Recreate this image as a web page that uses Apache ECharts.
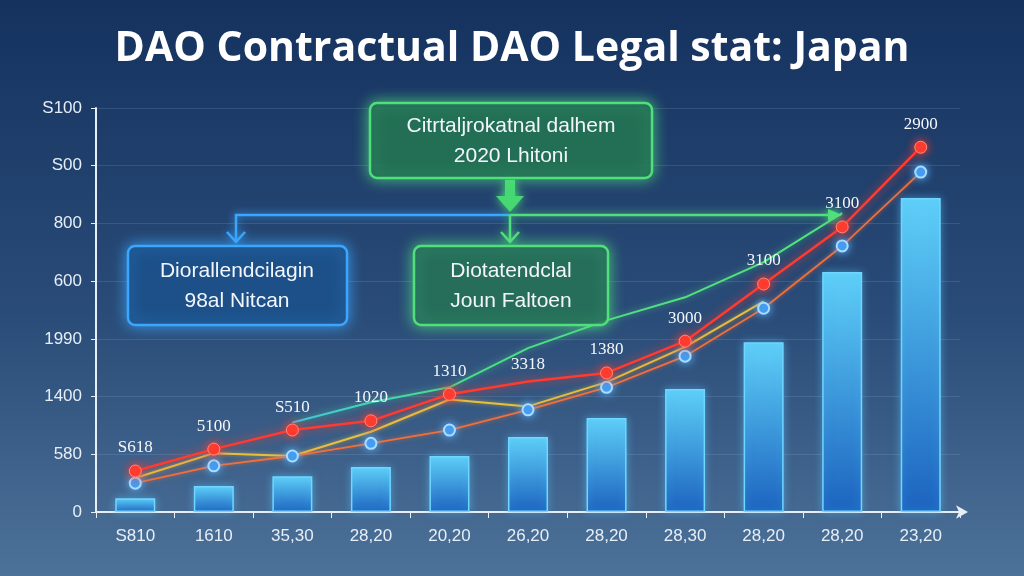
<!DOCTYPE html>
<html>
<head>
<meta charset="utf-8">
<title>DAO Contractual DAO Legal stat: Japan</title>
<script src="https://cdn.jsdelivr.net/npm/echarts@6/dist/echarts.min.js"></script>
<style>
  html, body { margin: 0; padding: 0; background: #1d3a66; }
  #chart { width: 1024px; height: 576px; }
</style>
</head>
<body>
<div id="chart"></div>
<script>
  // x categories and y tick labels as they appear on the picture
  var categories = ['S810', '1610', '35,30', '28,20', '20,20', '26,20', '28,20', '28,30', '28,20', '28,20', '23,20'];
  var yLabels = ['0', '580', '1400', '1990', '600', '800', 'S00', 'S100'];

  // values in tick steps (one step = one gridline)
  var barValues = [0.24, 0.45, 0.62, 0.78, 0.97, 1.30, 1.63, 2.13, 2.94, 4.16, 5.44];
  var redValues = [0.71, 1.09, 1.42, 1.58, 2.04, 2.26, 2.41, 2.96, 3.95, 4.94, 6.32];
  var orangeValues = [0.50, 0.80, 0.97, 1.19, 1.42, 1.77, 2.16, 2.70, 3.53, 4.61, 5.89];
  var yellowValues = [0.59, 1.02, 0.97, 1.39, 1.95, 1.83, 2.25, 2.86, 3.65];
  var greenValues = [null, null, 1.55, 1.90, 2.16, 2.84, 3.32, 3.72, 4.33, 5.18];
  var pointLabels = ['S618', '5100', 'S510', '1020', '1310', '3318', '1380', '3000', '3100', '3100', '2900'];

  var chart = echarts.init(document.getElementById('chart'));
  var lightText = '#e6eef7';

  function glowBox(x, y, w, h, stroke, fill) {
    return {
      type: 'rect',
      shape: { x: x, y: y, width: w, height: h, r: 7 },
      style: { fill: fill, stroke: stroke, lineWidth: 2.5, shadowBlur: 14, shadowColor: stroke },
      z: 20
    };
  }
  function boxText(x, y, text) {
    return {
      type: 'text',
      x: x, y: y,
      style: {
        text: text, fill: '#f2f6fb', font: '500 21px "Liberation Sans", Arial, sans-serif',
        align: 'center', verticalAlign: 'middle', lineHeight: 30
      },
      z: 21
    };
  }
  function arrowHead(x, y, color) {
    // small open chevron pointing down at (x, y)
    return {
      type: 'polyline',
      shape: { points: [[x - 9, y - 10], [x, y], [x + 9, y - 10]] },
      style: { stroke: color, lineWidth: 2.5, fill: null, shadowBlur: 8, shadowColor: color },
      z: 19
    };
  }

  var option = {
    backgroundColor: new echarts.graphic.LinearGradient(0, 0, 0, 1, [
      { offset: 0, color: '#15325f' },
      { offset: 0.55, color: '#2a4c78' },
      { offset: 1, color: '#4d7299' }
    ]),
    title: {
      text: 'DAO Contractual DAO Legal stat: Japan',
      left: 'center',
      top: 24,
      textStyle: {
        color: '#ffffff',
        fontSize: 41,
        fontWeight: 'bold',
        fontFamily: '"Open Sans", "Noto Sans", sans-serif'
      }
    },
    grid: { left: 96, right: 64, top: 108, bottom: 64 },
    xAxis: {
      type: 'category',
      data: categories,
      boundaryGap: true,
      axisLine: {
        show: true,
        symbol: ['none', 'arrow'],
        symbolSize: [10, 12],
        symbolOffset: [0, 8],
        lineStyle: { color: '#e8eef6', width: 2 }
      },
      axisTick: { show: true, length: 6, lineStyle: { color: '#e8eef6' } },
      axisLabel: {
        color: lightText,
        fontSize: 17,
        margin: 16,
        fontFamily: '"Liberation Sans Narrow", "Liberation Sans", sans-serif'
      }
    },
    yAxis: {
      type: 'value',
      min: 0,
      max: 7,
      interval: 1,
      axisLine: { show: true, lineStyle: { color: '#e8eef6', width: 2 } },
      axisTick: { show: true, length: 5, lineStyle: { color: '#e8eef6' } },
      axisLabel: {
        color: lightText,
        fontSize: 17,
        margin: 14,
        fontFamily: '"Liberation Sans Narrow", "Liberation Sans", sans-serif',
        formatter: function (v) { return yLabels[Math.round(v)]; }
      },
      splitLine: { show: true, lineStyle: { color: 'rgba(170,200,235,0.16)', width: 1 } }
    },
    series: [
      {
        name: 'bars',
        type: 'bar',
        data: barValues,
        barWidth: 40,
        z: 2,
        itemStyle: {
          color: new echarts.graphic.LinearGradient(0, 0, 0, 1, [
            { offset: 0, color: '#5fd0f8' },
            { offset: 1, color: '#1c63bf' }
          ]),
          borderColor: '#6fd6ff',
          borderWidth: 1.5,
          shadowBlur: 8,
          shadowColor: 'rgba(90,200,255,0.5)'
        }
      },
      {
        name: 'green',
        type: 'line',
        data: greenValues,
        symbol: 'none',
        z: 3,
        lineStyle: {
          width: 2,
          color: new echarts.graphic.LinearGradient(0, 0, 1, 0, [
            { offset: 0, color: '#3ec8e8' },
            { offset: 0.3, color: '#4ade8a' },
            { offset: 1, color: '#56e07a' }
          ]),
          shadowBlur: 6,
          shadowColor: 'rgba(80,230,130,0.6)'
        }
      },
      {
        name: 'yellow',
        type: 'line',
        data: yellowValues,
        symbol: 'none',
        z: 4,
        lineStyle: { width: 2, color: '#e8c040', shadowBlur: 4, shadowColor: 'rgba(240,200,60,0.6)' }
      },
      {
        name: 'orange',
        type: 'line',
        data: orangeValues,
        symbol: 'circle',
        symbolSize: 11,
        z: 5,
        lineStyle: { width: 1.8, color: '#f0703a', shadowBlur: 4, shadowColor: 'rgba(255,110,60,0.6)' },
        itemStyle: {
          color: '#3d95ee',
          borderColor: '#a9dcff',
          borderWidth: 2,
          shadowBlur: 8,
          shadowColor: '#5ab4ff'
        }
      },
      {
        name: 'red',
        type: 'line',
        data: redValues.map(function (v, i) {
          // no visible marker where the picture has none, but keep its label
          return i === 5 ? { value: v, symbolSize: 1, itemStyle: { color: 'rgba(0,0,0,0)', borderWidth: 0, shadowBlur: 0 } } : v;
        }),
        symbol: 'circle',
        symbolSize: 12,
        z: 6,
        lineStyle: { width: 2.5, color: '#ff3b30', shadowBlur: 10, shadowColor: 'rgba(255,60,50,0.8)' },
        itemStyle: { color: '#ff3b30', borderColor: '#ff8a7a', borderWidth: 1, shadowBlur: 10, shadowColor: '#ff3b30' },
        label: {
          show: true,
          position: 'top',
          distance: 8,
          color: '#f4f7fb',
          fontSize: 17,
          fontFamily: '"Liberation Serif", "DejaVu Serif", serif',
          formatter: function (p) { return pointLabels[p.dataIndex]; }
        }
      }
    ],
    graphic: [
      // connectors
      {
        type: 'polyline',
        shape: { points: [[236, 240], [236, 215], [510, 215]] },
        style: { stroke: '#3aa6ff', lineWidth: 2.5, fill: null, shadowBlur: 8, shadowColor: '#3aa6ff' },
        z: 19
      },
      {
        type: 'polyline',
        shape: { points: [[510, 215], [838, 215]] },
        style: { stroke: '#4fe07c', lineWidth: 2.5, fill: null, shadowBlur: 8, shadowColor: '#4fe07c' },
        z: 19
      },
      {
        type: 'polygon',
        shape: { points: [[828, 209], [842, 215], [828, 221]] },
        style: { fill: '#4fe07c', shadowBlur: 8, shadowColor: '#4fe07c' },
        z: 19
      },
      {
        type: 'polyline',
        shape: { points: [[510, 215], [510, 242]] },
        style: { stroke: '#4fe07c', lineWidth: 2.5, fill: null, shadowBlur: 8, shadowColor: '#4fe07c' },
        z: 19
      },
      arrowHead(236, 242, '#3aa6ff'),
      arrowHead(510, 242, '#4fe07c'),
      {
        type: 'polygon',
        shape: { points: [[505, 180], [515, 180], [515, 196], [524, 196], [510, 212], [496, 196], [505, 196]] },
        style: { fill: '#45d873', shadowBlur: 10, shadowColor: '#4fe07c' },
        z: 19
      },
      // boxes
      glowBox(370, 103, 282, 75, '#4fe07c', 'rgba(24,84,72,0.72)'),
      boxText(511, 141, 'Citrtaljrokatnal dalhem\n2020 Lhitoni'),
      glowBox(128, 246, 219, 79, '#3aa6ff', 'rgba(22,62,112,0.78)'),
      boxText(237, 286, 'Diorallendcilagin\n98al Nitcan'),
      glowBox(414, 246, 194, 79, '#4fe07c', 'rgba(26,82,78,0.72)'),
      boxText(511, 286, 'Diotatendclal\nJoun Faltoen')
    ]
  };

  chart.setOption(option);
</script>
</body>
</html>
